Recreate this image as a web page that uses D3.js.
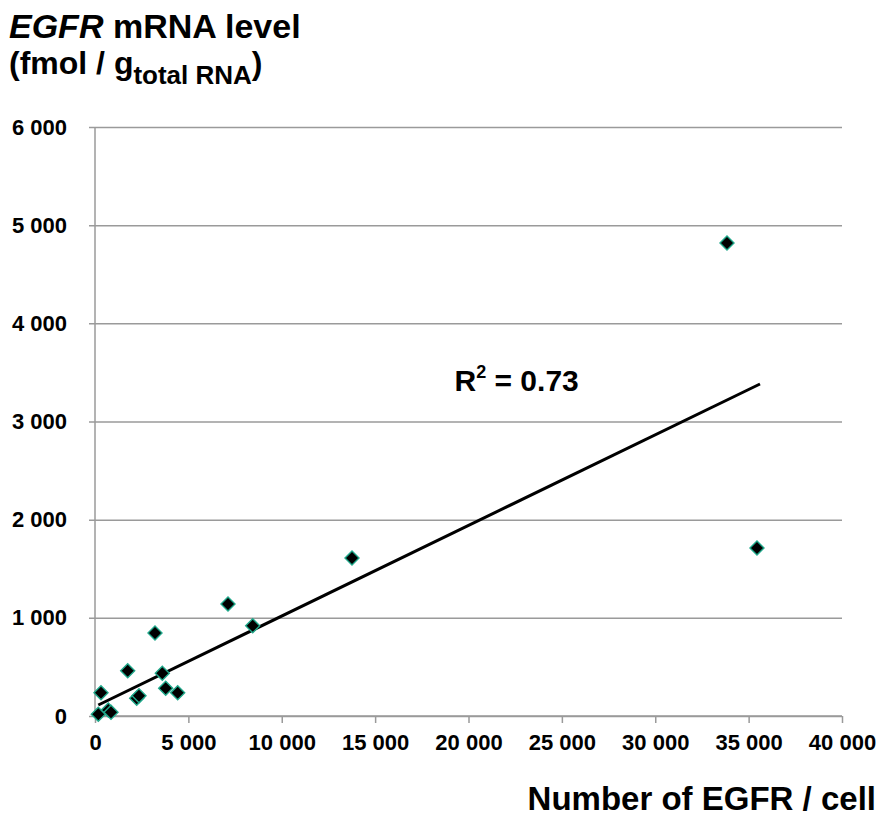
<!DOCTYPE html>
<html>
<head>
<meta charset="utf-8">
<script src="https://cdn.jsdelivr.net/npm/d3@7/dist/d3.min.js"></script>
<style>
  html, body { margin: 0; padding: 0; background: #fff; }
  svg { display: block; font-family: "Liberation Sans", Arial, sans-serif; font-weight: bold; }
</style>
</head>
<body>
<svg id="chart" width="878" height="818"></svg>
<script>
// ---- data ----
const receptorsPerCell = [177, 712, 857, 321, 1751, 2233, 2356, 3213, 3604, 3786, 4428, 7122, 8445, 13762, 33842, 35448];
const mrnaLevel        = [17, 61, 38, 237, 461, 180, 207, 845, 435, 282, 237, 1141, 920, 1609, 4818, 1711];
const trendX = [177, 35609];
const trendY = [112, 3382];
const xTicks = [0, 5000, 10000, 15000, 20000, 25000, 30000, 35000, 40000];
const yTicks = [0, 1000, 2000, 3000, 4000, 5000, 6000];
const r2Label = { x: 19250, y: 3310, text: "0.73" };

// ---- layout ----
const W = 878, H = 818;
const m = { left: 95, right: 36, top: 127, bottom: 102 };
const svg = d3.select("#chart");
const x = d3.scaleLinear().domain([0, 40000]).range([m.left, W - m.right]);
const y = d3.scaleLinear().domain([0, 6000]).range([H - m.bottom, m.top]);
const fmt = d3.formatLocale({ decimal: ".", thousands: " ", grouping: [3], currency: ["", ""] }).format(",d");

// gridlines + y axis
const yAxis = d3.axisLeft(y).tickValues(yTicks).tickSize(-(W - m.right - m.left)).tickFormat(fmt).tickPadding(28);
const gy = svg.append("g").attr("transform", `translate(${m.left},0)`).call(yAxis);
gy.select(".domain").remove();
gy.selectAll(".tick line").attr("stroke", "#9a9a9a").attr("stroke-width", 1.5).attr("x1", -6);
gy.selectAll(".tick text").attr("font-size", 22).attr("fill", "#000").attr("font-family", "Liberation Sans, Arial, sans-serif").attr("font-weight", "bold");
svg.append("line").attr("x1", m.left).attr("x2", m.left).attr("y1", y(6000)).attr("y2", y(0))
   .attr("stroke", "#9a9a9a").attr("stroke-width", 1.5);

// x axis
const xAxis = d3.axisBottom(x).tickValues(xTicks).tickSize(7).tickFormat(fmt).tickPadding(11);
const gx = svg.append("g").attr("transform", `translate(0,${y(0)})`).call(xAxis);
gx.select(".domain").attr("stroke", "#9a9a9a").attr("stroke-width", 1.5).attr("d", `M${m.left},0H${W - m.right}`);
gx.selectAll(".tick line").attr("stroke", "#9a9a9a").attr("stroke-width", 1.5);
gx.selectAll(".tick text").attr("font-size", 22).attr("fill", "#000").attr("font-family", "Liberation Sans, Arial, sans-serif").attr("font-weight", "bold");

// trend line
svg.append("path")
  .datum(trendX.map((d, i) => [d, trendY[i]]))
  .attr("d", d3.line().x(d => x(d[0])).y(d => y(d[1])))
  .attr("fill", "none").attr("stroke", "#000").attr("stroke-width", 3);

// points
const pts = receptorsPerCell.map((d, i) => ({ x: d, y: mrnaLevel[i] }));
svg.append("g").selectAll("path").data(pts).join("path")
  .attr("transform", d => `translate(${x(d.x)},${y(d.y)})`)
  .attr("d", "M0,-7L7,0L0,7L-7,0Z")
  .attr("fill", "#000").attr("stroke", "#1fa88a").attr("stroke-width", 1.4);

// R² annotation
const r2 = svg.append("text").attr("x", x(r2Label.x)).attr("y", y(r2Label.y)).attr("font-size", 30).attr("fill", "#000");
r2.append("tspan").text("R");
r2.append("tspan").attr("font-size", 18).attr("dy", -13).text("2");
r2.append("tspan").attr("dy", 13).text(" = " + r2Label.text);

// y title
const t1 = svg.append("text").attr("x", 9).attr("y", 38).attr("font-size", 34).attr("fill", "#000");
t1.append("tspan").attr("font-style", "italic").text("EGFR");
t1.append("tspan").text(" mRNA level");
const t2 = svg.append("text").attr("x", 9).attr("y", 74).attr("font-size", 32).attr("fill", "#000");
t2.append("tspan").text("(fmol / g");
t2.append("tspan").attr("font-size", 26).attr("dy", 10).text("total RNA");
t2.append("tspan").attr("dy", -10).text(")");

// x title
svg.append("text").attr("x", 876).attr("y", 810).attr("text-anchor", "end").attr("font-size", 33).attr("fill", "#000")
  .text("Number of EGFR / cell");
</script>
</body>
</html>
